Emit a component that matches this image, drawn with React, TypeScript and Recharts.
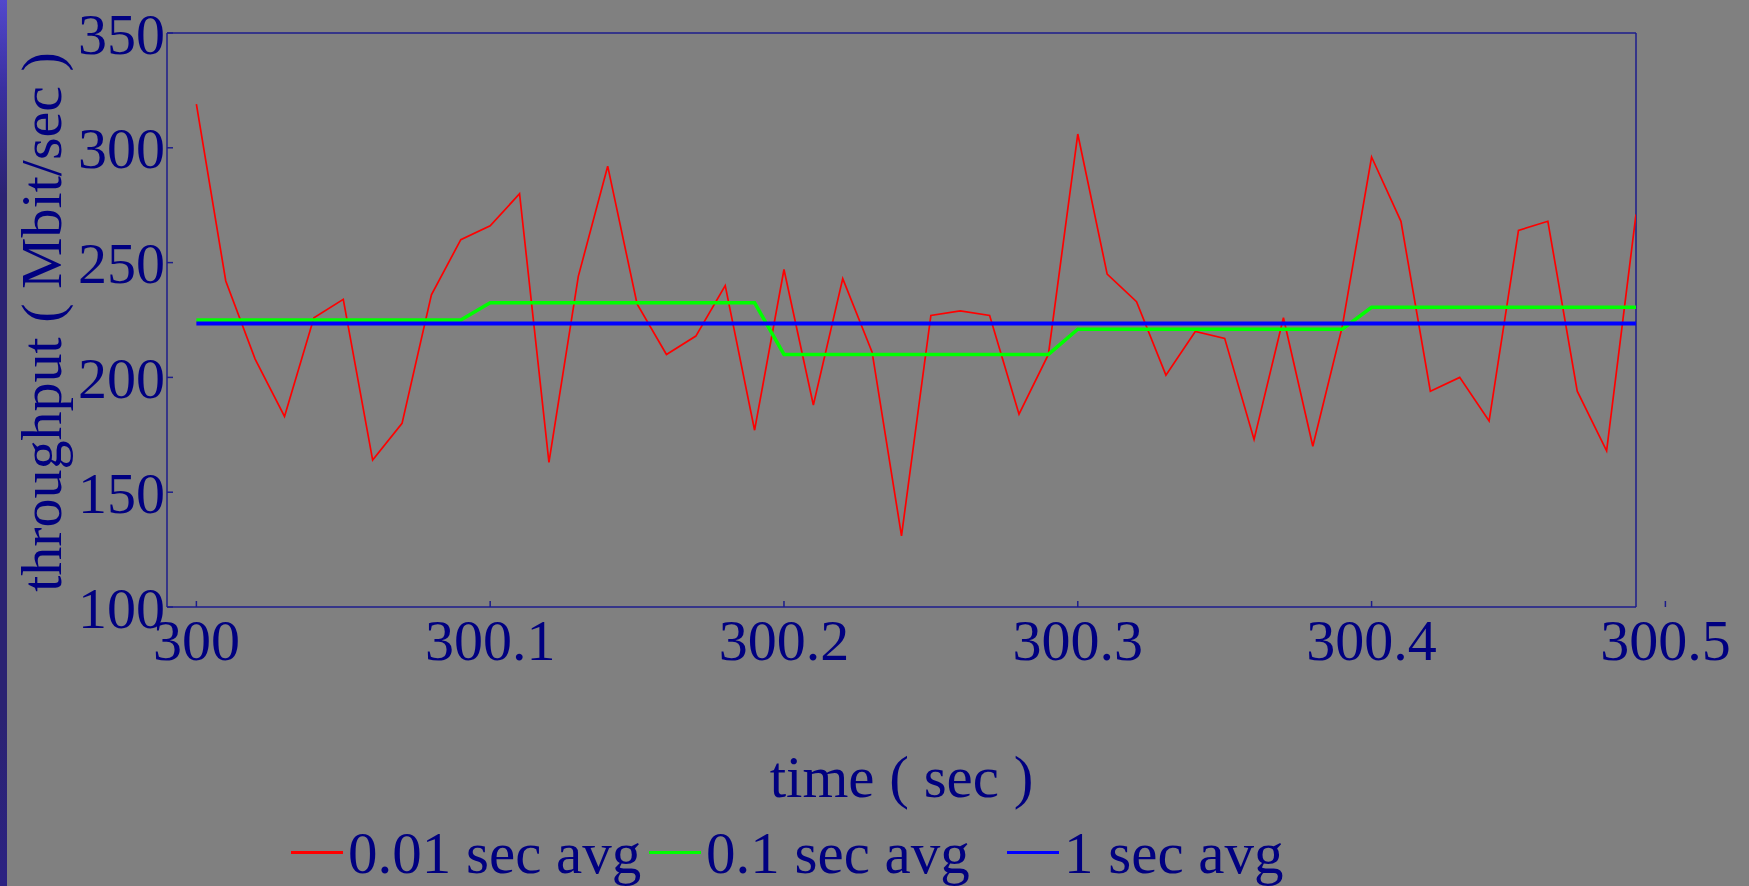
import React from "react";
import {
  LineChart,
  Line,
  XAxis,
  YAxis,
  ReferenceLine,
} from "recharts";

const TIMES = [
  300.0, 300.01, 300.02, 300.03, 300.04, 300.05, 300.06, 300.07, 300.08, 300.09,
  300.1, 300.11, 300.12, 300.13, 300.14, 300.15, 300.16, 300.17, 300.18, 300.19,
  300.2, 300.21, 300.22, 300.23, 300.24, 300.25, 300.26, 300.27, 300.28, 300.29,
  300.3, 300.31, 300.32, 300.33, 300.34, 300.35, 300.36, 300.37, 300.38, 300.39,
  300.4, 300.41, 300.42, 300.43, 300.44, 300.45, 300.46, 300.47, 300.48, 300.49,
];

// 0.01 sec avg
const AVG_001 = [
  319, 242, 208, 183, 226, 234, 164, 180, 236, 260,
  266, 280, 163, 244, 292, 232, 210, 218, 240, 177,
  247, 188, 243, 211, 131, 227, 229, 227, 184, 210,
  306, 245, 233, 201, 220, 217, 173, 226, 170, 222,
  296, 268, 194, 200, 181, 264, 268, 194, 168, 271,
];

// 0.1 sec avg
const AVG_01 = [
  225, 225, 225, 225, 225, 225, 225, 225, 225, 225,
  232.5, 232.5, 232.5, 232.5, 232.5, 232.5, 232.5, 232.5, 232.5, 232.5,
  210, 210, 210, 210, 210, 210, 210, 210, 210, 210,
  221, 221, 221, 221, 221, 221, 221, 221, 221, 221,
  230.5, 230.5, 230.5, 230.5, 230.5, 230.5, 230.5, 230.5, 230.5, 230.5,
];

// 1 sec avg
const AVG_1 = [
  223.5, 223.5, 223.5, 223.5, 223.5, 223.5, 223.5, 223.5, 223.5, 223.5,
  223.5, 223.5, 223.5, 223.5, 223.5, 223.5, 223.5, 223.5, 223.5, 223.5,
  223.5, 223.5, 223.5, 223.5, 223.5, 223.5, 223.5, 223.5, 223.5, 223.5,
  223.5, 223.5, 223.5, 223.5, 223.5, 223.5, 223.5, 223.5, 223.5, 223.5,
  223.5, 223.5, 223.5, 223.5, 223.5, 223.5, 223.5, 223.5, 223.5, 223.5,
];

const X_TICKS = [300, 300.1, 300.2, 300.3, 300.4, 300.5];
const Y_TICKS = [100, 150, 200, 250, 300, 350];

const SERIES = [
  { key: "a001", name: "0.01 sec avg", color: "#ff0000", width: 1.7 },
  { key: "a01", name: "0.1 sec avg", color: "#00ff00", width: 3.5 },
  { key: "a1", name: "1 sec avg", color: "#0000ff", width: 4 },
];

const FONT = "'Liberation Serif', 'Times New Roman', serif";
const NAVY = "#000080";
const AXIS = "#1c1c8c";
const BG = "#808080";

const data = TIMES.map((t, i) => ({
  t,
  a001: AVG_001[i],
  a01: AVG_01[i],
  a1: AVG_1[i],
}));

const tickStyle = { fontFamily: FONT, fontSize: 58, fill: NAVY };

function XTitle(props: any) {
  const vb = props.viewBox || { x: 167, y: 607, width: 1469 };
  return (
    <text
      x={vb.x + vb.width / 2}
      y={vb.y + 190}
      textAnchor="middle"
      fontFamily={FONT}
      fontSize={59}
      fill={NAVY}
    >
      time ( sec )
    </text>
  );
}

function YTitle(props: any) {
  const vb = props.viewBox || { x: 0, y: 33, height: 574 };
  const x = 61;
  const y = vb.y + vb.height / 2 + 2;
  return (
    <text
      x={x}
      y={y}
      transform={`rotate(-90, ${x}, ${y})`}
      textAnchor="middle"
      fontFamily={FONT}
      fontSize={58}
      fill={NAVY}
    >
      throughput ( Mbit/sec )
    </text>
  );
}

export default function App() {
  return (
    <div
      style={{
        position: "absolute",
        left: 0,
        top: 0,
        width: 1749,
        height: 886,
        overflow: "hidden",
        background: BG,
      }}
    >
      {/* slide edge stripe */}
      <div
        style={{
          position: "absolute",
          left: 0,
          top: 0,
          width: 7,
          height: 886,
          background:
            "linear-gradient(to bottom, #5248cc 0%, #3a30a0 10%, #2b2372 22%, #2b2372 80%, #2c2282 100%)",
        }}
      />
      <LineChart
        width={1749}
        height={886}
        data={data}
        margin={{ top: 33, right: 113, bottom: 0, left: 0 }}
      >
        <XAxis
          dataKey="t"
          type="number"
          domain={[299.99, 300.49]}
          allowDataOverflow
          ticks={X_TICKS}
          interval={0}
          height={279}
          tickSize={-6}
          tickMargin={18}
          tick={tickStyle}
          tickFormatter={(v) => String(v)}
          axisLine={{ stroke: AXIS, strokeWidth: 1.5 }}
          tickLine={{ stroke: AXIS, strokeWidth: 1.5 }}
          label={XTitle}
        />
        <YAxis
          type="number"
          domain={[100, 350]}
          allowDataOverflow
          ticks={Y_TICKS}
          interval={0}
          width={167}
          tickSize={-6}
          tickMargin={8}
          tick={tickStyle}
          axisLine={{ stroke: AXIS, strokeWidth: 1.5 }}
          tickLine={{ stroke: AXIS, strokeWidth: 1.5 }}
          label={YTitle}
        />
        <ReferenceLine y={350} stroke={AXIS} strokeWidth={1.5} />
        <ReferenceLine x={300.49} stroke={AXIS} strokeWidth={1.5} />
        {SERIES.map((s) => (
          <Line
            key={s.key}
            type="linear"
            dataKey={s.key}
            name={s.name}
            stroke={s.color}
            strokeWidth={s.width}
            dot={false}
            activeDot={false}
            isAnimationActive={false}
          />
        ))}
      </LineChart>

      {/* Legend */}
      {SERIES.map((s, i) => (
        <React.Fragment key={s.key}>
          <span
            style={{
              position: "absolute",
              left: 291 + i * 358,
              top: 851,
              width: 52,
              height: 3,
              backgroundColor: s.color,
            }}
          />
          <span
            style={{
              position: "absolute",
              left: 348 + i * 358,
              top: 824,
              fontFamily: FONT,
              fontSize: 59,
              lineHeight: "59px",
              color: NAVY,
              whiteSpace: "nowrap",
            }}
          >
            {s.name}
          </span>
        </React.Fragment>
      ))}
    </div>
  );
}
